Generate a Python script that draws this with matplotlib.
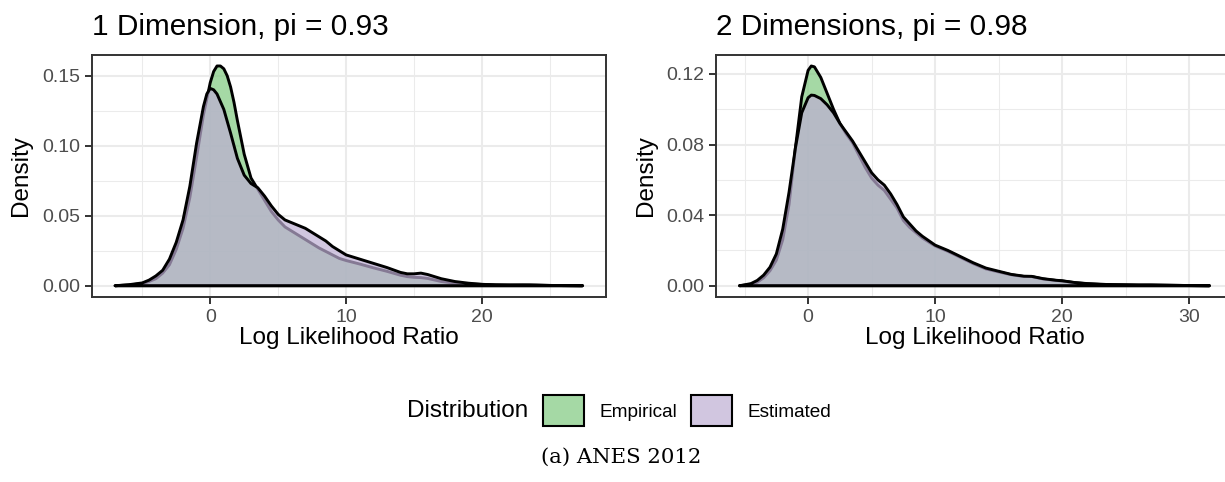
import matplotlib
matplotlib.use("Agg")
import matplotlib.pyplot as plt
from matplotlib.colors import to_rgba
from matplotlib.patches import Patch
from matplotlib.ticker import MultipleLocator, FormatStrFormatter

plt.rcParams['font.family'] = ['Liberation Sans', 'DejaVu Sans']

# 1 dimension: density of the log likelihood ratio
x1_emp = [-7.0, -6.0, -5.0, -4.5, -4.0, -3.5, -3.0, -2.5, -2.0, -1.5, -1.0, -0.5, 0.0, 0.25, 0.5,
          0.75, 1.0, 1.25, 1.5, 1.75, 2.0, 2.5, 3.0, 3.5, 4.0, 4.5, 5.0, 5.5, 6.0, 6.5, 7.0, 7.5,
          8.0, 8.5, 9.0, 9.5, 10.0, 11.0, 12.0, 13.0, 14.0, 14.5, 15.0, 15.5, 16.0, 17.0, 18.0,
          19.0, 20.0, 21.0, 22.0, 23.0, 23.5, 24.0, 25.0, 26.0, 27.4]
y1_emp = [0.0, 0.0005, 0.0015, 0.003, 0.005, 0.009, 0.015, 0.026, 0.041, 0.063, 0.092, 0.122,
          0.145, 0.153, 0.157, 0.157, 0.155, 0.150, 0.142, 0.131, 0.118, 0.094, 0.077, 0.069,
          0.061, 0.053, 0.047, 0.042, 0.039, 0.036, 0.033, 0.030, 0.027, 0.0245, 0.022, 0.0195,
          0.018, 0.0155, 0.0128, 0.0103, 0.0075, 0.0065, 0.006, 0.0058, 0.0052, 0.003, 0.0018,
          0.0012, 0.0009, 0.0006, 0.0005, 0.0006, 0.0006, 0.0005, 0.0002, 0.0001, 0.0]
x1_est = [-7.0, -6.0, -5.0, -4.5, -4.0, -3.5, -3.0, -2.5, -2.0, -1.5, -1.0, -0.5, -0.25, 0.0,
          0.25, 0.5, 1.0, 1.5, 2.0, 2.5, 3.0, 3.5, 4.0, 4.5, 5.0, 5.5, 6.0, 6.5, 7.0, 7.5, 8.0,
          8.5, 9.0, 9.5, 10.0, 11.0, 12.0, 13.0, 14.0, 14.5, 15.0, 15.5, 16.0, 16.5, 17.0, 18.0,
          19.0, 20.0, 21.0, 22.0, 23.0, 24.0, 25.0, 26.0, 27.4]
y1_est = [0.0, 0.0007, 0.002, 0.004, 0.007, 0.011, 0.019, 0.031, 0.047, 0.071, 0.102, 0.128,
          0.137, 0.141, 0.140, 0.137, 0.126, 0.109, 0.091, 0.079, 0.073, 0.070, 0.064, 0.057,
          0.051, 0.047, 0.045, 0.043, 0.041, 0.038, 0.035, 0.032, 0.028, 0.025, 0.022, 0.019,
          0.016, 0.013, 0.0095, 0.0085, 0.0085, 0.009, 0.008, 0.0065, 0.005, 0.003, 0.0018,
          0.001, 0.0006, 0.0005, 0.0004, 0.0003, 0.0002, 0.0001, 0.0]

# 2 dimensions
x2 = [-5.4, -5.0, -4.5, -4.0, -3.5, -3.0, -2.5, -2.0, -1.5, -1.0, -0.5, 0.0, 0.25, 0.5, 1.0,
      1.5, 2.0, 2.5, 3.0, 3.5, 4.0, 4.5, 5.0, 5.5, 6.0, 6.5, 7.0, 7.5, 8.0, 8.5, 9.0, 10.0,
      11.0, 12.0, 13.0, 14.0, 15.0, 16.0, 17.0, 17.6, 18.5, 19.5, 20.0, 21.0, 22.0, 23.0, 24.0,
      25.0, 26.0, 27.0, 28.0, 29.0, 30.0, 31.6]
y2_emp = [0.0, 0.0003, 0.0008, 0.002, 0.0045, 0.0085, 0.0145, 0.026, 0.046, 0.078, 0.107, 0.122,
          0.1245, 0.124, 0.118, 0.109, 0.100, 0.092, 0.086, 0.081, 0.074, 0.067, 0.061, 0.057,
          0.054, 0.049, 0.044, 0.037, 0.033, 0.030, 0.027, 0.0225, 0.0195, 0.016, 0.0125,
          0.0095, 0.0078, 0.0062, 0.0052, 0.0052, 0.0038, 0.0030, 0.0027, 0.0017, 0.0011,
          0.0008, 0.0006, 0.0005, 0.0004, 0.0004, 0.0003, 0.0002, 0.0001, 0.0]
y2_est = [0.0, 0.0005, 0.0012, 0.003, 0.006, 0.0105, 0.018, 0.032, 0.053, 0.078, 0.098, 0.1065,
          0.108, 0.1078, 0.106, 0.1025, 0.098, 0.092, 0.087, 0.082, 0.076, 0.070, 0.064, 0.060,
          0.057, 0.052, 0.046, 0.039, 0.035, 0.031, 0.028, 0.023, 0.020, 0.0165, 0.013, 0.010,
          0.0082, 0.0064, 0.0054, 0.0053, 0.004, 0.0031, 0.0028, 0.0018, 0.0012, 0.0008, 0.0006,
          0.0005, 0.0004, 0.0004, 0.0003, 0.0002, 0.0001, 0.0]

titles = ["1 Dimension, pi = 0.93", "2 Dimensions, pi = 0.98"]
labels = ["Empirical", "Estimated"]
colors = ["#7FC97F", "#BEAED4"]
ALPHA = 0.7

W, H = 1225, 482
fig = plt.figure(figsize=(W / 100, H / 100), dpi=100)

def px_axes(left, right, top, bottom):
    return fig.add_axes([left / W, (H - bottom) / H, (right - left) / W, (bottom - top) / H])

ax1 = px_axes(91.7, 606, 55, 296.7)
ax2 = px_axes(716, 1233, 55, 296.7)

panels = [
    (ax1, [(x1_emp, y1_emp), (x1_est, y1_est)], 0.05, 0.025),
    (ax2, [(x2, y2_emp), (x2, y2_est)], 0.04, 0.02),
]

for i, (ax, series, ymaj, ymin) in enumerate(panels):
    for (xs, ys), col in zip(series, colors):
        # closed polygon so the baseline is outlined too
        ax.fill(xs, ys, facecolor=to_rgba(col, ALPHA), edgecolor="black", linewidth=2.1,
                joinstyle="round", zorder=2)
    ax.margins(x=0.05, y=0.05)

    ax.xaxis.set_major_locator(MultipleLocator(10))
    ax.xaxis.set_minor_locator(MultipleLocator(5))
    ax.yaxis.set_major_locator(MultipleLocator(ymaj))
    ax.yaxis.set_minor_locator(MultipleLocator(ymin))
    ax.yaxis.set_major_formatter(FormatStrFormatter("%.2f"))

    ax.grid(True, which="major", color="#EBEBEB", linewidth=1.5, zorder=0)
    ax.grid(True, which="minor", color="#EBEBEB", linewidth=0.75, zorder=0)
    ax.set_axisbelow(True)
    for sp in ax.spines.values():
        sp.set_color("#333333")
        sp.set_linewidth(1.4)
        sp.set_zorder(5)

    ax.tick_params(which="major", length=5, width=1.4, color="#333333",
                   labelsize=14, labelcolor="#4D4D4D", pad=3.5)
    ax.tick_params(which="minor", length=0)

    ax.set_xlabel("Log Likelihood Ratio", fontsize=17.5, color="black")
    ax.set_ylabel("Density", fontsize=17.5, color="black")
    ax.xaxis.set_label_coords(0.5, -0.125)

    # panel title, left-aligned with the frame
    ax.text(0, 1 + 20 / 241.7, titles[i], transform=ax.transAxes, fontsize=21.4,
            ha="left", va="baseline", color="black")

ax1.yaxis.set_label_coords(-0.116, 0.5)
ax2.yaxis.set_label_coords(-0.1147, 0.5)

# legend along the bottom
fig.text(528 / W, (H - 410.7) / H, "Distribution", fontsize=17.5, ha="right", va="center")
handles = [Patch(facecolor=to_rgba(c, ALPHA), edgecolor="black", linewidth=1.5, label=l)
           for c, l in zip(colors, labels)]
fig.legend(handles=handles, loc="center left", bbox_to_anchor=(543 / W, (H - 410.7) / H),
           ncol=2, frameon=False, fontsize=13.7, handlelength=2.15, handleheight=2.1,
           handletextpad=0.8, columnspacing=0.75, borderpad=0, borderaxespad=0)

fig.text(621 / W, (H - 457) / H, "(a) ANES 2012", fontsize=15.3, family="DejaVu Serif",
         ha="center", va="center")

fig.savefig("out.png", dpi=100)
